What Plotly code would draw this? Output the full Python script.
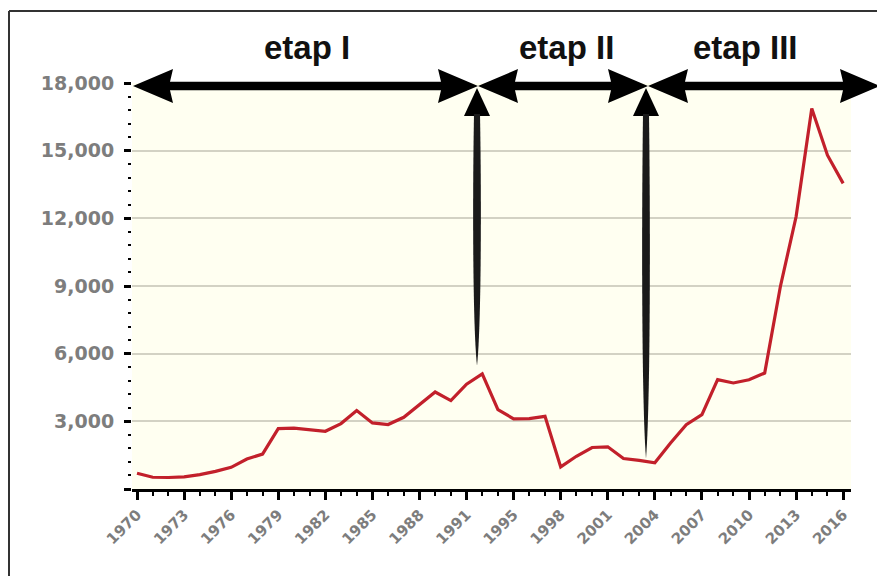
import plotly.graph_objects as go

# ---- data -------------------------------------------------------------
years = [1970, 1971, 1972, 1973, 1974, 1975, 1976, 1977, 1978, 1979,
         1980, 1981, 1982, 1983, 1984, 1985, 1986, 1987, 1988, 1989,
         1990, 1991, 1993, 1994, 1995, 1996, 1997, 1998, 1999, 2000,
         2001, 2002, 2003, 2004, 2005, 2006, 2007, 2008, 2009, 2010,
         2011, 2012, 2013, 2014, 2015, 2016]
values = [700, 520, 510, 540, 640, 780, 960, 1330, 1550, 2680,
          2700, 2630, 2560, 2900, 3480, 2930, 2860, 3180, 3720, 4300,
          3920, 4650, 5100, 3520, 3110, 3120, 3220, 980, 1450, 1840,
          1870, 1350, 1270, 1160, 2040, 2850, 3300, 4850, 4700, 4840,
          5140, 8980, 12070, 16870, 14800, 13550]
tick_labels = ["1970", "1973", "1976", "1979", "1982", "1985", "1988", "1991",
               "1995", "1998", "2001", "2004", "2007", "2010", "2013", "2016"]
y_ticks = [0, 3000, 6000, 9000, 12000, 15000, 18000]
y_tick_labels = ["", "3,000", "6,000", "9,000", "12,000", "15,000", "18,000"]
stage_labels = ["etap I", "etap II", "etap III"]

# ---- geometry helpers (viewport pixel -> paper) -----------------------
OFF = 8                      # page body margin
W, H = 885 - OFF, 576 - OFF
PL, PR, PT, PB = 132, 851, 83, 489.5   # plot area in viewport pixels
L, R, T, B = PL - OFF, W - (PR - OFF), PT - OFF, H - (PB - OFF)
PW, PH = W - L - R, H - T - B


def px(x):
    return (x - OFF - L) / PW


def py(y):
    return 1 - (y - OFF - T) / PH


positions = list(range(len(years)))
tick_pos = [years.index(int(t)) for t in tick_labels]

fig = go.Figure()
fig.add_trace(go.Scatter(
    x=positions, y=values, mode="lines",
    line=dict(color="#c2202b", width=3.2),
    hoverinfo="skip", showlegend=False,
))

shapes = []


def P(a, b):
    return f"{px(a):.5f},{py(b):.5f}"


def hdouble(x1, x2, yc, hl=40, hh=17, st=4.2):
    pts = [(x1, yc), (x1 + hl, yc - hh), (x1 + hl - 3, yc - st), (x2 - hl + 3, yc - st),
           (x2 - hl, yc - hh), (x2, yc), (x2 - hl, yc + hh), (x2 - hl + 3, yc + st),
           (x1 + hl - 3, yc + st), (x1 + hl, yc + hh)]
    d = "M " + " L ".join(P(a, b) for a, b in pts) + " Z"
    shapes.append(dict(type="path", xref="paper", yref="paper", path=d,
                       fillcolor="black", line=dict(width=0), layer="above"))


def vup(x, ytip, ybot, hw=13, hbase=116):
    head = [(x, ytip), (x + hw, hbase), (x - hw, hbase)]
    d = "M " + " L ".join(P(a, b) for a, b in head) + " Z"
    shapes.append(dict(type="path", xref="paper", yref="paper", path=d,
                       fillcolor="black", line=dict(width=0), layer="above"))
    h = ybot - hbase
    d2 = (f"M {P(x - 3, hbase - 2)} "
          f"C {P(x - 4.6, hbase + 0.35 * h)} {P(x - 4.2, hbase + 0.85 * h)} {P(x, ybot)} "
          f"C {P(x + 4.2, hbase + 0.85 * h)} {P(x + 4.6, hbase + 0.35 * h)} {P(x + 3, hbase - 2)} Z")
    shapes.append(dict(type="path", xref="paper", yref="paper", path=d2,
                       fillcolor="#1a1a1a", line=dict(width=0), layer="above"))


hdouble(133, 478, 86)
hdouble(478, 648, 86)
hdouble(648, 880, 86)
vup(477, 88, 366)
vup(646, 88, 459)

# frame
shapes.append(dict(type="line", xref="paper", yref="paper",
                   x0=px(9), x1=px(9), y0=py(11), y1=py(590),
                   line=dict(color="#333333", width=2)))
shapes.append(dict(type="line", xref="paper", yref="paper",
                   x0=px(9), x1=px(895), y0=py(11), y1=py(11),
                   line=dict(color="#333333", width=2)))

annotations = []
for lab, cx in zip(stage_labels, [307, 566, 745]):
    annotations.append(dict(text=f"<b>{lab}</b>", x=px(cx), y=py(47),
                            xref="paper", yref="paper", showarrow=False,
                            xanchor="center", yanchor="middle",
                            font=dict(family="Liberation Sans, Arial", size=33,
                                      color="#111111")))

fig.update_layout(
    width=W, height=H,
    margin=dict(l=L, r=R, t=T, b=B),
    paper_bgcolor="white",
    plot_bgcolor="#fffff1",
    shapes=shapes,
    annotations=annotations,
    showlegend=False,
)
fig.update_xaxes(
    range=[-0.32, 45.5], tickmode="array", tickvals=tick_pos, ticktext=tick_labels,
    tickangle=-45, showgrid=False, zeroline=False,
    showline=True, linecolor="black", linewidth=3,
    ticks="outside", ticklen=8, tickwidth=3, tickcolor="black",
    minor=dict(dtick=1, tick0=0, ticks="outside", ticklen=4, tickwidth=2,
               tickcolor="black", showgrid=False),
    tickfont=dict(family="DejaVu Sans", size=15, color="#7d7d7d", weight="bold"),
    fixedrange=True,
)
fig.update_yaxes(
    range=[0, 18000], tickmode="array", tickvals=y_ticks, ticktext=y_tick_labels,
    showgrid=True, gridcolor="#d3d2c4", gridwidth=2, zeroline=False,
    showline=False,
    ticks="outside", ticklen=7, tickwidth=3, tickcolor="black",
    ticklabelstandoff=6,
    minor=dict(dtick=600, tick0=0, ticks="outside", ticklen=3, tickwidth=2,
               tickcolor="black", showgrid=False),
    tickfont=dict(family="DejaVu Sans", size=19, color="#7d7d7d", weight="bold"),
    fixedrange=True,
)

fig.write_html("out.html")
